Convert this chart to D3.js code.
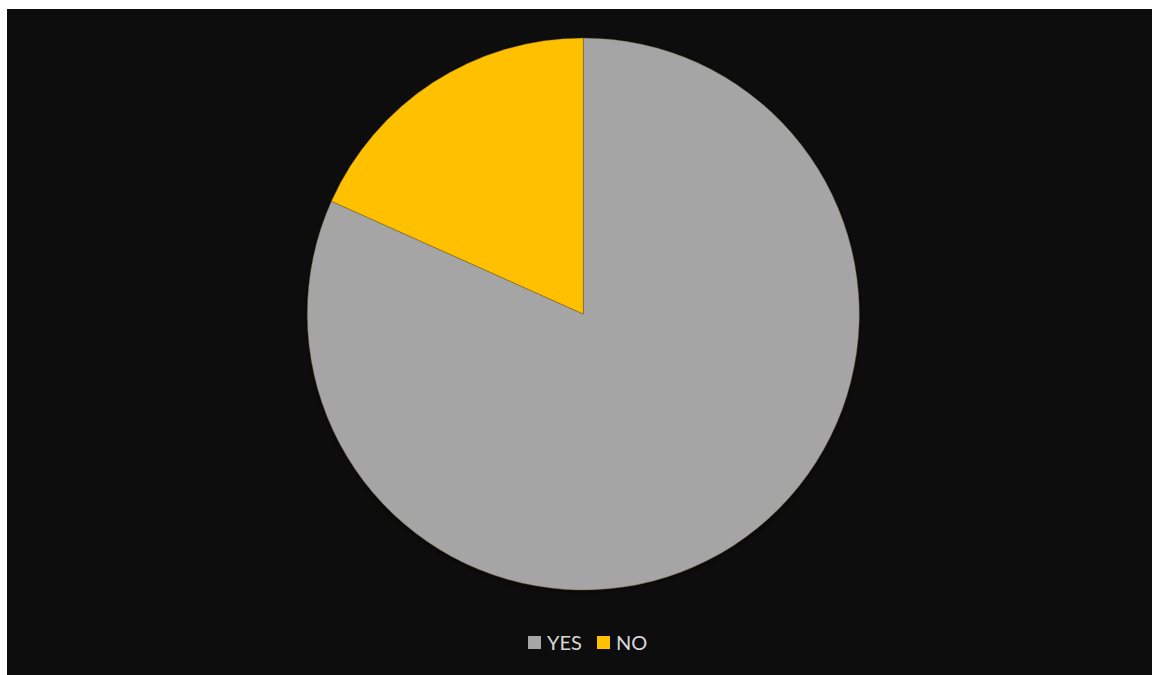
<!DOCTYPE html>
<html>
<head>
<meta charset="utf-8">
<script src="https://cdn.jsdelivr.net/npm/d3@7"></script>
<style>
  html, body { margin: 0; padding: 0; background: #ffffff; }
  svg { display: block; }
</style>
</head>
<body>
<svg id="chart" width="1152" height="675"></svg>
<script>
// Survey answers, share of responses (%)
const categories = ["YES", "NO"];
const values = [81.7, 18.3];
const colors = ["#a5a5a5", "#ffc000"];

const svg = d3.select("#chart");
const W = 1152, H = 675;

// chart area panel
svg.append("rect")
  .attr("x", 7).attr("y", 9)
  .attr("width", W - 7).attr("height", H - 9)
  .attr("fill", "#0d0d0d");

const cx = 583.3, cy = 314, r = 276;

const color = d3.scaleOrdinal().domain(categories).range(colors);

const pie = d3.pie().sort(null).value(d => d.value);
const arc = d3.arc().innerRadius(0).outerRadius(r);

const data = categories.map((c, i) => ({ name: c, value: values[i] }));

const defs = svg.append("defs");
const shadow = defs.append("filter").attr("id", "soft")
  .attr("x", "-10%").attr("y", "-10%").attr("width", "120%").attr("height", "120%");
shadow.append("feGaussianBlur").attr("in", "SourceAlpha").attr("stdDeviation", 2.5).attr("result", "b");
shadow.append("feOffset").attr("in", "b").attr("dx", 0).attr("dy", 1.5).attr("result", "o");
shadow.append("feComponentTransfer").attr("in", "o").attr("result", "s")
  .append("feFuncA").attr("type", "linear").attr("slope", 0.5);
const merge = shadow.append("feMerge");
merge.append("feMergeNode").attr("in", "s");
merge.append("feMergeNode").attr("in", "SourceGraphic");

const g = svg.append("g")
  .attr("transform", `translate(${cx},${cy})`)
  .attr("filter", "url(#soft)");

g.selectAll("path")
  .data(pie(data))
  .join("path")
  .attr("d", arc)
  .attr("fill", d => color(d.data.name))
  .attr("stroke", "#5a4a20")
  .attr("stroke-width", 0.6)
  .attr("stroke-opacity", 0.6);

// legend
const legend = svg.append("g").attr("font-family", "Lato, 'Open Sans', sans-serif")
  .attr("font-size", 20).attr("fill", "#d9d9d9");

const items = [
  { name: "YES", x: 528 },
  { name: "NO", x: 597 }
];
const leg = legend.selectAll("g").data(items).join("g")
  .attr("transform", d => `translate(${d.x},636)`);
leg.append("rect")
  .attr("width", 13).attr("height", 13)
  .attr("fill", d => color(d.name));
leg.append("text")
  .attr("x", 19).attr("y", 14)
  .text(d => d.name);
</script>
</body>
</html>
